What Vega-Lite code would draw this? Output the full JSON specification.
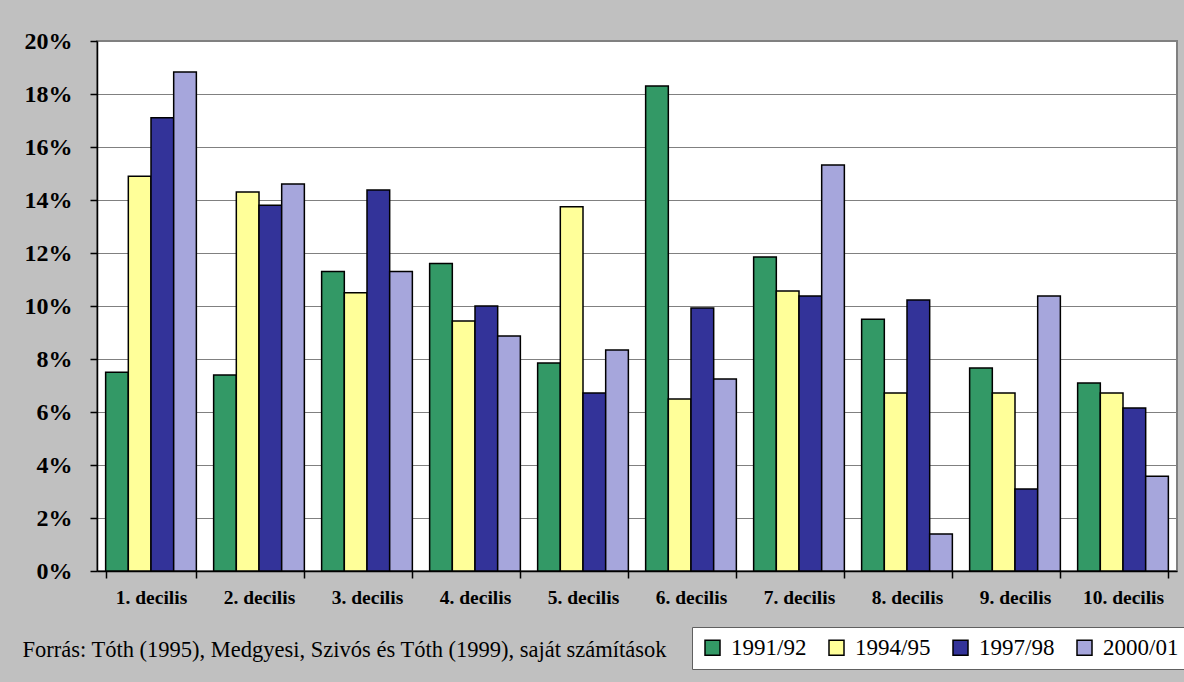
{
  "$schema": "https://vega.github.io/schema/vega-lite/v6.json",
  "width": 1080,
  "height": 530,
  "autosize": {"type": "none"},
  "padding": {"left": 97, "top": 41, "right": 7, "bottom": 111},
  "background": "#C0C0C0",
  "config": {
    "view": {"fill": "white", "stroke": "#808080", "strokeWidth": 2},
    "font": "Liberation Serif"
  },
  "data": {
    "values": [
      {"decilis": "1. decilis", "year": "1991/92", "value": 0.075},
      {"decilis": "1. decilis", "year": "1994/95", "value": 0.149},
      {"decilis": "1. decilis", "year": "1997/98", "value": 0.171},
      {"decilis": "1. decilis", "year": "2000/01", "value": 0.1883},
      {"decilis": "2. decilis", "year": "1991/92", "value": 0.074},
      {"decilis": "2. decilis", "year": "1994/95", "value": 0.143},
      {"decilis": "2. decilis", "year": "1997/98", "value": 0.138},
      {"decilis": "2. decilis", "year": "2000/01", "value": 0.146},
      {"decilis": "3. decilis", "year": "1991/92", "value": 0.113},
      {"decilis": "3. decilis", "year": "1994/95", "value": 0.105},
      {"decilis": "3. decilis", "year": "1997/98", "value": 0.1438},
      {"decilis": "3. decilis", "year": "2000/01", "value": 0.113},
      {"decilis": "4. decilis", "year": "1991/92", "value": 0.116},
      {"decilis": "4. decilis", "year": "1994/95", "value": 0.0943},
      {"decilis": "4. decilis", "year": "1997/98", "value": 0.100},
      {"decilis": "4. decilis", "year": "2000/01", "value": 0.0887},
      {"decilis": "5. decilis", "year": "1991/92", "value": 0.0785},
      {"decilis": "5. decilis", "year": "1994/95", "value": 0.1375},
      {"decilis": "5. decilis", "year": "1997/98", "value": 0.0672},
      {"decilis": "5. decilis", "year": "2000/01", "value": 0.0834},
      {"decilis": "6. decilis", "year": "1991/92", "value": 0.183},
      {"decilis": "6. decilis", "year": "1994/95", "value": 0.0649},
      {"decilis": "6. decilis", "year": "1997/98", "value": 0.0992},
      {"decilis": "6. decilis", "year": "2000/01", "value": 0.0725},
      {"decilis": "7. decilis", "year": "1991/92", "value": 0.1185},
      {"decilis": "7. decilis", "year": "1994/95", "value": 0.1057},
      {"decilis": "7. decilis", "year": "1997/98", "value": 0.1038},
      {"decilis": "7. decilis", "year": "2000/01", "value": 0.1532},
      {"decilis": "8. decilis", "year": "1991/92", "value": 0.095},
      {"decilis": "8. decilis", "year": "1994/95", "value": 0.0672},
      {"decilis": "8. decilis", "year": "1997/98", "value": 0.1023},
      {"decilis": "8. decilis", "year": "2000/01", "value": 0.014},
      {"decilis": "9. decilis", "year": "1991/92", "value": 0.0766},
      {"decilis": "9. decilis", "year": "1994/95", "value": 0.0672},
      {"decilis": "9. decilis", "year": "1997/98", "value": 0.0309},
      {"decilis": "9. decilis", "year": "2000/01", "value": 0.1038},
      {"decilis": "10. decilis", "year": "1991/92", "value": 0.0709},
      {"decilis": "10. decilis", "year": "1994/95", "value": 0.0672},
      {"decilis": "10. decilis", "year": "1997/98", "value": 0.0615},
      {"decilis": "10. decilis", "year": "2000/01", "value": 0.0358}
    ]
  },
  "mark": {"type": "bar", "stroke": "black", "strokeWidth": 1.5},
  "encoding": {
    "x": {
      "field": "decilis",
      "type": "nominal",
      "sort": ["1. decilis", "2. decilis", "3. decilis", "4. decilis", "5. decilis", "6. decilis", "7. decilis", "8. decilis", "9. decilis", "10. decilis"],
      "scale": {"paddingInner": 0.16, "paddingOuter": 0.08},
      "axis": {
        "title": "Forrás: Tóth (1995), Medgyesi, Szivós és Tóth (1999), saját számítások",
        "titleFont": "Liberation Serif",
        "titleFontSize": 22.5,
        "titleFontWeight": "normal",
        "titleColor": "black",
        "titleAnchor": "start",
        "titleAlign": "left",
        "titleBaseline": "middle",
        "titleX": -75,
        "titleY": 78,
        "labelAngle": 0,
        "labelFont": "Liberation Serif",
        "labelFontWeight": "bold",
        "labelFontSize": 19.5,
        "labelColor": "black",
        "domainColor": "black",
        "domainWidth": 1.5,
        "tickColor": "black",
        "tickWidth": 1.5,
        "tickBand": "extent",
        "tickSize": 7,
        "labelPadding": 10,
        "grid": false
      }
    },
    "xOffset": {
      "field": "year",
      "type": "nominal",
      "sort": ["1991/92", "1994/95", "1997/98", "2000/01"]
    },
    "y": {
      "field": "value",
      "type": "quantitative",
      "scale": {"domain": [0, 0.2], "nice": false},
      "axis": {
        "title": null,
        "format": ".0%",
        "values": [0, 0.02, 0.04, 0.06, 0.08, 0.1, 0.12, 0.14, 0.16, 0.18, 0.2],
        "labelFont": "Liberation Serif",
        "labelFontWeight": "bold",
        "labelFontSize": 24,
        "labelColor": "black",
        "labelPadding": 18,
        "domainColor": "black",
        "domainWidth": 1.5,
        "tickColor": "black",
        "tickWidth": 1.5,
        "tickSize": 7,
        "gridColor": "#808080",
        "gridWidth": 1
      }
    },
    "fill": {
      "field": "year",
      "type": "nominal",
      "scale": {
        "domain": ["1991/92", "1994/95", "1997/98", "2000/01"],
        "range": ["#339966", "#FFFF99", "#333399", "#A6A6DC"]
      },
      "legend": {
        "title": null,
        "orient": "none",
        "legendX": 595,
        "legendY": 586,
        "direction": "horizontal",
        "fillColor": "white",
        "strokeColor": "#606060",
        "padding": 9,
        "symbolType": "square",
        "symbolSize": 225,
        "symbolStrokeColor": "black",
        "symbolStrokeWidth": 1.5,
        "labelFont": "Liberation Serif",
        "labelFontSize": 23,
        "labelColor": "black",
        "labelOffset": 7,
        "columnPadding": 18
      }
    }
  }
}
